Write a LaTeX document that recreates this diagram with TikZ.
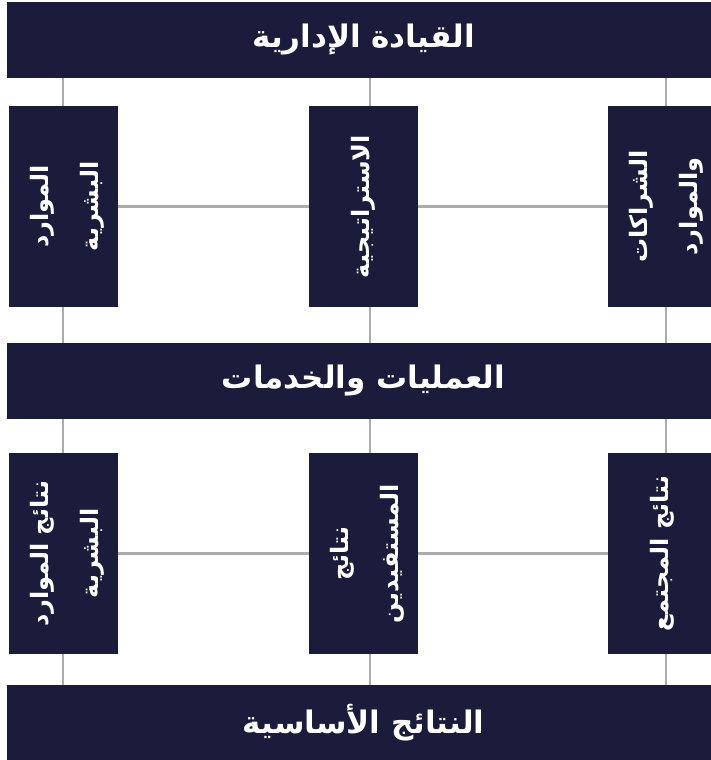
\documentclass[tikz,border=0pt]{standalone}
\usepackage{fontspec}
\usepackage{xcolor}
\usepackage{tikz}
\usetikzlibrary{calc, positioning}
\TeXXeTstate=1
\newfontfamily\arabicfont[Script=Arabic]{DejaVu Sans}
\definecolor{boxNavy}{RGB}{27,27,59}
\definecolor{linkGray}{RGB}{172,172,172}

\begin{document}
\begin{tikzpicture}[
    x=1pt, y=-1pt,
    % Wide horizontal band across the page
    band/.style={
        rectangle, fill=boxNavy, draw=none,
        minimum width=713pt, minimum height=76pt,
        text=white, inner sep=0pt,
        font=\arabicfont\bfseries\fontsize{31}{36}\selectfont
    },
    % Tall column block with rotated label
    pillar/.style={
        rectangle, fill=boxNavy, draw=none,
        minimum width=109pt, minimum height=201pt,
        text=white, inner sep=0pt,
        font=\arabicfont\bfseries\fontsize{24}{50}\selectfont
    },
    link/.style={draw=linkGray, line width=2.5pt}
]
\useasboundingbox (0,0) rectangle (710,760);
% ── BANDS ─────────────────────────────────────────────────────
\node[band] (lead) at (363.5, 40)  {\beginR القيادة الإدارية\endR};
\node[band] (ops)  at (363.5, 381) {\beginR العمليات والخدمات\endR};
\node[band] (core) at (363.5, 723) {\beginR النتائج الأساسية\endR};
% ── LINKS (behind the pillars) ───────────────────────────────
\coordinate (c1) at (63, 0);
\coordinate (c2) at (370, 0);
\coordinate (c3) at (666, 0);
\foreach \c in {c1, c2, c3} {
    \draw[link] (\c |- lead.south) -- (\c |- ops.north);
    \draw[link] (\c |- ops.south)  -- (\c |- core.north);
}
% ── TOP ROW PILLARS ──────────────────────────────────────────
\node[pillar] (hr)    at (63.5,  206.5)
    {\rotatebox{90}{\begin{tabular}{@{}c@{}}\beginR الموارد\endR\\
                                            \beginR البشرية\endR\end{tabular}}};
\node[pillar] (strat) at (363.5, 206.5)
    {\rotatebox{90}{\beginR الاستراتيجية\endR}};
\node[pillar] (part)  at (662.5, 206.5)
    {\rotatebox{90}{\begin{tabular}{@{}c@{}}\beginR الشراكات\endR\\
                                            \beginR والموارد\endR\end{tabular}}};
% ── BOTTOM ROW PILLARS ───────────────────────────────────────
\node[pillar] (hrres)   at (63.5,  553.5)
    {\rotatebox{90}{\begin{tabular}{@{}c@{}}\beginR نتائج الموارد\endR\\
                                            \beginR البشرية\endR\end{tabular}}};
\node[pillar] (custres) at (363.5, 553.5)
    {\rotatebox{90}{\begin{tabular}{@{}c@{}}\beginR نتائج\endR\\
                                            \beginR المستفيدين\endR\end{tabular}}};
\node[pillar] (socres)  at (662.5, 553.5)
    {\rotatebox{90}{\beginR نتائج المجتمع\endR}};
% ── HORIZONTAL LINKS ─────────────────────────────────────────
\draw[link] (hr.east)      -- (strat.west);
\draw[link] (strat.east)   -- (part.west);
\draw[link] (hrres.east)   -- (custres.west);
\draw[link] (custres.east) -- (socres.west);
\end{tikzpicture}
\end{document}
